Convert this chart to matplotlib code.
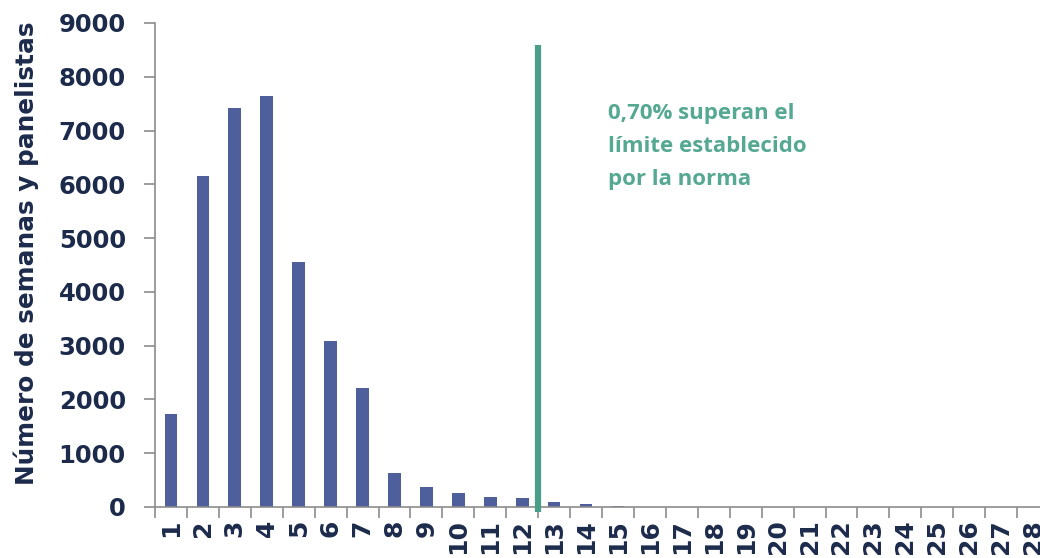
import matplotlib
matplotlib.use("Agg")
import matplotlib.pyplot as plt
from matplotlib.transforms import Affine2D

# Weekly counts per panelist, binned by number of exceedances
categories = list(range(1, 29))
counts = [1730, 6160, 7420, 7650, 4560, 3080, 2210, 630, 370, 260, 190, 160,
          90, 55, 10, 8, 7, 6, 5, 5, 5, 4, 4, 4, 3, 3, 3, 3]
limit_position = 12.5
limit_top = 8600
note_text = "0,70% superan el\nlímite establecido\npor la norma"
ylabel_text = "Número de semanas y panelistas"
yticks = list(range(0, 9001, 1000))

bar_color = "#4f5f9b"
line_color = "#4a9e88"
note_color = "#55a892"
label_color = "#1c2b4b"
axis_color = "#8c8c8c"

fig = plt.figure(figsize=(10.4, 5.58), dpi=100)
ax = fig.add_axes([155 / 1040, 1 - 507 / 558, 894 / 1040, (507 - 23) / 558])

ax.bar(categories, counts, width=0.4, color=bar_color, zorder=2)
ax.plot([limit_position, limit_position], [-90, limit_top], color=line_color,
        linewidth=4.5, solid_capstyle="butt", clip_on=False, zorder=3)

ax.set_xlim(0.5, 28.5)
ax.set_ylim(0, 9000)
ax.set_yticks(yticks)
ax.set_yticklabels([str(v) for v in yticks])
ax.set_xticks(categories)
ax.set_xticklabels([str(c) for c in categories], rotation=90)
ax.set_xticks([c + 0.5 for c in range(0, 28)], minor=True)

for s in ("top", "right"):
    ax.spines[s].set_visible(False)
for s in ("left", "bottom"):
    ax.spines[s].set_color(axis_color)
    ax.spines[s].set_linewidth(1.2)

ax.tick_params(axis="x", which="major", length=0, pad=9,
               labelsize=18, labelcolor=label_color)
ax.tick_params(axis="x", which="minor", length=8, width=1.2, color=axis_color,
               direction="out")
ax.tick_params(axis="y", length=8, width=1.2, color=axis_color, pad=13,
               labelsize=17.5, labelcolor=label_color)
for lbl in ax.get_xticklabels() + ax.get_yticklabels():
    lbl.set_fontweight("bold")

ax.set_ylabel(ylabel_text, fontsize=17.8, fontweight="bold", color=label_color)
ax.yaxis.set_label_coords(-0.13, 0.525)

# note placed in pixel units measured from the top-left corner
ax.text(608, 103, note_text, fontsize=16, fontweight="bold",
        family="Open Sans", color=note_color, va="top", ha="left",
        linespacing=1.75,
        transform=Affine2D().scale(1, -1).translate(0, 558))

fig.savefig("out.png", dpi=100, facecolor="white")
